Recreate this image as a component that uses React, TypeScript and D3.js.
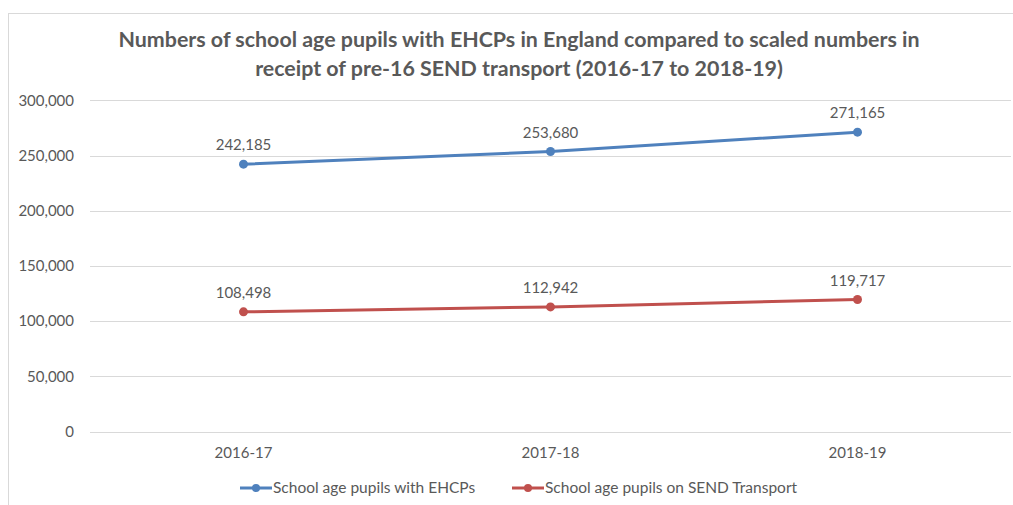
import React, { useEffect, useRef } from "react";
import * as d3 from "d3";

const categories = ["2016-17", "2017-18", "2018-19"];
const ehcpValues = [242185, 253680, 271165];
const transportValues = [108498, 112942, 119717];
const yTicks = [0, 50000, 100000, 150000, 200000, 250000, 300000];
const seriesNames = [
  "School age pupils with EHCPs",
  "School age pupils on SEND Transport",
];
const titleLines = [
  "Numbers of school age pupils with EHCPs in England compared to scaled numbers in",
  "receipt of pre-16 SEND transport (2016-17 to 2018-19)",
];

const App: React.FC = () => {
  const svgRef = useRef<SVGSVGElement>(null);

  useEffect(() => {
    const width = 1013;
    const height = 505;
    const font = "Lato, 'Open Sans', sans-serif";
    const textColor = "#595959";
    const colors = ["#4F81BD", "#C0504D"];

    const svg = d3.select(svgRef.current);
    svg.selectAll("*").remove();
    svg.attr("width", width).attr("height", height);

    // chart area border
    svg
      .append("rect")
      .attr("x", 8.5)
      .attr("y", 13.5)
      .attr("width", 1020)
      .attr("height", 520)
      .attr("fill", "white")
      .attr("stroke", "#d9d9d9");

    // title
    svg
      .selectAll("text.title")
      .data(titleLines)
      .join("text")
      .attr("class", "title")
      .attr("x", 519)
      .attr("y", (d, i) => 47 + i * 29)
      .attr("text-anchor", "middle")
      .attr("font-family", font)
      .attr("font-weight", "bold")
      .attr("font-size", 21.4)
      .attr("fill", textColor)
      .text((d) => d);

    const x = d3.scalePoint<string>().domain(categories).range([90, 1011]).padding(0.5);
    const y = d3.scaleLinear().domain([0, 300000]).range([431.7, 100.3]);

    // gridlines
    svg
      .selectAll("line.grid")
      .data(yTicks)
      .join("line")
      .attr("class", "grid")
      .attr("x1", 90)
      .attr("x2", 1011)
      .attr("y1", (d) => Math.round(y(d)) + 0.5)
      .attr("y2", (d) => Math.round(y(d)) + 0.5)
      .attr("stroke", "#d9d9d9")
      .attr("stroke-width", 1);

    // y tick labels
    svg
      .selectAll("text.ytick")
      .data(yTicks)
      .join("text")
      .attr("class", "ytick")
      .attr("x", 74)
      .attr("y", (d) => y(d))
      .attr("dy", "0.35em")
      .attr("text-anchor", "end")
      .attr("font-family", font)
      .attr("font-size", 15)
      .attr("fill", textColor)
      .text((d) => d3.format(",")(d));

    // x labels
    svg
      .selectAll("text.xtick")
      .data(categories)
      .join("text")
      .attr("class", "xtick")
      .attr("x", (d) => x(d)!)
      .attr("y", 458)
      .attr("text-anchor", "middle")
      .attr("font-family", font)
      .attr("font-size", 15)
      .attr("fill", textColor)
      .text((d) => d);

    const line = d3
      .line<number>()
      .x((d, i) => x(categories[i])!)
      .y((d) => y(d));

    [ehcpValues, transportValues].forEach((values, s) => {
      const g = svg.append("g");
      g.append("path")
        .datum(values)
        .attr("d", line)
        .attr("fill", "none")
        .attr("stroke", colors[s])
        .attr("stroke-width", 3)
        .attr("stroke-linecap", "round");
      g.selectAll("circle")
        .data(values)
        .join("circle")
        .attr("cx", (d, i) => x(categories[i])!)
        .attr("cy", (d) => y(d))
        .attr("r", 4.5)
        .attr("fill", colors[s]);
      g.selectAll("text")
        .data(values)
        .join("text")
        .attr("x", (d, i) => x(categories[i])!)
        .attr("y", (d) => y(d) - 19)
        .attr("dy", "0.35em")
        .attr("text-anchor", "middle")
        .attr("font-family", font)
        .attr("font-size", 15)
        .attr("fill", textColor)
        .text((d) => d3.format(",")(d));
    });

    // legend
    const legendX = [240, 512];
    seriesNames.forEach((name, s) => {
      const lg = svg.append("g").attr("transform", `translate(${legendX[s]},488)`);
      lg.append("line")
        .attr("x1", 0)
        .attr("x2", 32)
        .attr("stroke", colors[s])
        .attr("stroke-width", 3);
      lg.append("circle").attr("cx", 16).attr("r", 4).attr("fill", colors[s]);
      lg.append("text")
        .attr("x", 33)
        .attr("dy", "0.35em")
        .attr("font-family", font)
        .attr("font-size", 15.5)
        .attr("fill", textColor)
        .text(name);
    });
  }, []);

  return (
    <svg
      ref={svgRef}
      style={{ position: "absolute", left: 0, top: 0, display: "block" }}
    ></svg>
  );
};

export default App;
